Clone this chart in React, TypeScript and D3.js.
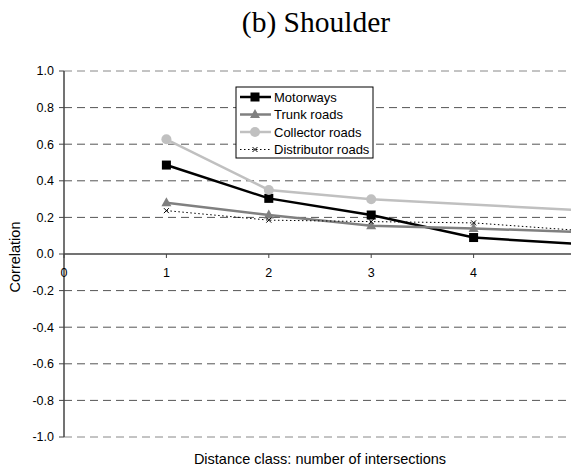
import React from "react";
import * as d3 from "d3";

const distanceClasses = [1, 2, 3, 4, 5];
const motorways = [0.486, 0.304, 0.213, 0.09, 0.055];
const trunkRoads = [0.28, 0.213, 0.155, 0.14, 0.12];
const collectorRoads: (number | null)[] = [0.627, 0.35, 0.299, null, 0.24];
const distributorRoads = [0.237, 0.185, 0.177, 0.17, 0.13];
const yTicks = [-1.0, -0.8, -0.6, -0.4, -0.2, 0.0, 0.2, 0.4, 0.6, 0.8, 1.0];
const xTicks = [0, 1, 2, 3, 4];
const legendLabels = ["Motorways", "Trunk roads", "Collector roads", "Distributor roads"];

const W = 571;
const H = 468;
const FONT = "'Liberation Sans', Arial, sans-serif";

export default function App() {
  const x = d3.scaleLinear().domain([0, 5]).range([64, 576]);
  const y = d3.scaleLinear().domain([-1, 1]).range([437, 71]);

  const mk = (vals: (number | null)[]) =>
    distanceClasses
      .map((c, i) => ({ c, v: vals[i] }))
      .filter((d) => d.v !== null) as { c: number; v: number }[];

  const line = d3
    .line<{ c: number; v: number }>()
    .x((d) => x(d.c))
    .y((d) => y(d.v));

  const series = [
    { name: legendLabels[0], data: mk(motorways), color: "#000", width: 2.5, dash: "", marker: "square" },
    { name: legendLabels[1], data: mk(trunkRoads), color: "#808080", width: 2.5, dash: "", marker: "triangle" },
    { name: legendLabels[2], data: mk(collectorRoads), color: "#c0c0c0", width: 2.5, dash: "", marker: "circle" },
    { name: legendLabels[3], data: mk(distributorRoads), color: "#000", width: 1, dash: "1.5,2.5", marker: "x" },
  ];

  const marker = (type: string, cx: number, cy: number, color: string, key: string) => {
    if (type === "square")
      return <rect key={key} x={cx - 4.5} y={cy - 4.5} width={9} height={9} fill={color} />;
    if (type === "triangle")
      return (
        <path key={key} d={`M${cx},${cy - 5.5}L${cx + 5},${cy + 3.5}L${cx - 5},${cy + 3.5}Z`} fill={color} />
      );
    if (type === "circle") return <circle key={key} cx={cx} cy={cy} r={5} fill={color} />;
    return (
      <path
        key={key}
        d={`M${cx - 2.5},${cy - 2.5}L${cx + 2.5},${cy + 2.5}M${cx - 2.5},${cy + 2.5}L${cx + 2.5},${cy - 2.5}`}
        stroke={color}
        strokeWidth={1}
      />
    );
  };

  const lx = 236,
    ly = 87,
    lw = 137,
    lh = 71;

  return (
    <svg width={W} height={H} style={{ position: "absolute", left: 0, top: 0, background: "#fff" }}>
      <text x={316} y={32} textAnchor="middle" fontFamily="'Liberation Serif', 'Times New Roman', serif" fontSize={29.5}>
        (b) Shoulder
      </text>
      {/* gridlines */}
      {yTicks.map((t) =>
        t === 0 ? null : (
          <line
            key={"g" + t}
            x1={x(0)}
            x2={W}
            y1={y(t)}
            y2={y(t)}
            stroke={Math.abs(t) === 1 ? "#888" : "#555"}
            strokeWidth={1}
            strokeDasharray="8,5"
          />
        )
      )}
      {/* y axis */}
      <line x1={x(0)} x2={x(0)} y1={y(1)} y2={y(-1)} stroke="#444" strokeWidth={1.5} />
      {yTicks.map((t) => (
        <g key={"yt" + t}>
          <line x1={x(0) - 5} x2={x(0)} y1={y(t)} y2={y(t)} stroke="#444" />
          <text
            x={x(0) - 10}
            y={y(t)}
            dy="0.35em"
            textAnchor="end"
            fontFamily={FONT}
            fontSize={12.5}
          >
            {t.toFixed(1)}
          </text>
        </g>
      ))}
      {/* x axis */}
      <line x1={x(0)} x2={W} y1={y(0)} y2={y(0)} stroke="#444" strokeWidth={1.5} />
      {xTicks.map((t) => (
        <g key={"xt" + t}>
          <line x1={x(t)} x2={x(t)} y1={y(0)} y2={y(0) + 4} stroke="#444" />
          <text x={x(t)} y={y(0) + 23} textAnchor="middle" fontFamily={FONT} fontSize={12.5}>
            {t}
          </text>
        </g>
      ))}
      <text
        transform={`translate(20,${257}) rotate(-90)`}
        textAnchor="middle"
        fontFamily={FONT}
        fontSize={14.5}
      >
        Correlation
      </text>
      <text x={320} y={464} textAnchor="middle" fontFamily={FONT} fontSize={14.5}>
        Distance class: number of intersections
      </text>
      {/* series */}
      {series.map((s) => (
        <g key={s.name}>
          <path
            d={line(s.data) || ""}
            fill="none"
            stroke={s.color}
            strokeWidth={s.width}
            strokeDasharray={s.dash}
          />
          {s.data.map((d, i) => marker(s.marker, x(d.c), y(d.v), s.color, s.name + i))}
        </g>
      ))}
      {/* legend */}
      <rect x={lx} y={ly} width={lw} height={lh} fill="#fff" stroke="#000" strokeWidth={1} />
      {series.map((s, i) => {
        const yy = ly + 10 + i * 17.5;
        return (
          <g key={"lg" + s.name}>
            <line
              x1={lx + 4}
              x2={lx + 35}
              y1={yy}
              y2={yy}
              stroke={s.color}
              strokeWidth={s.width}
              strokeDasharray={s.dash}
            />
            {marker(s.marker, lx + 19, yy, s.color, "lm" + i)}
            <text x={lx + 38} y={yy} dy="0.35em" fontFamily={FONT} fontSize={13}>
              {s.name}
            </text>
          </g>
        );
      })}
    </svg>
  );
}
